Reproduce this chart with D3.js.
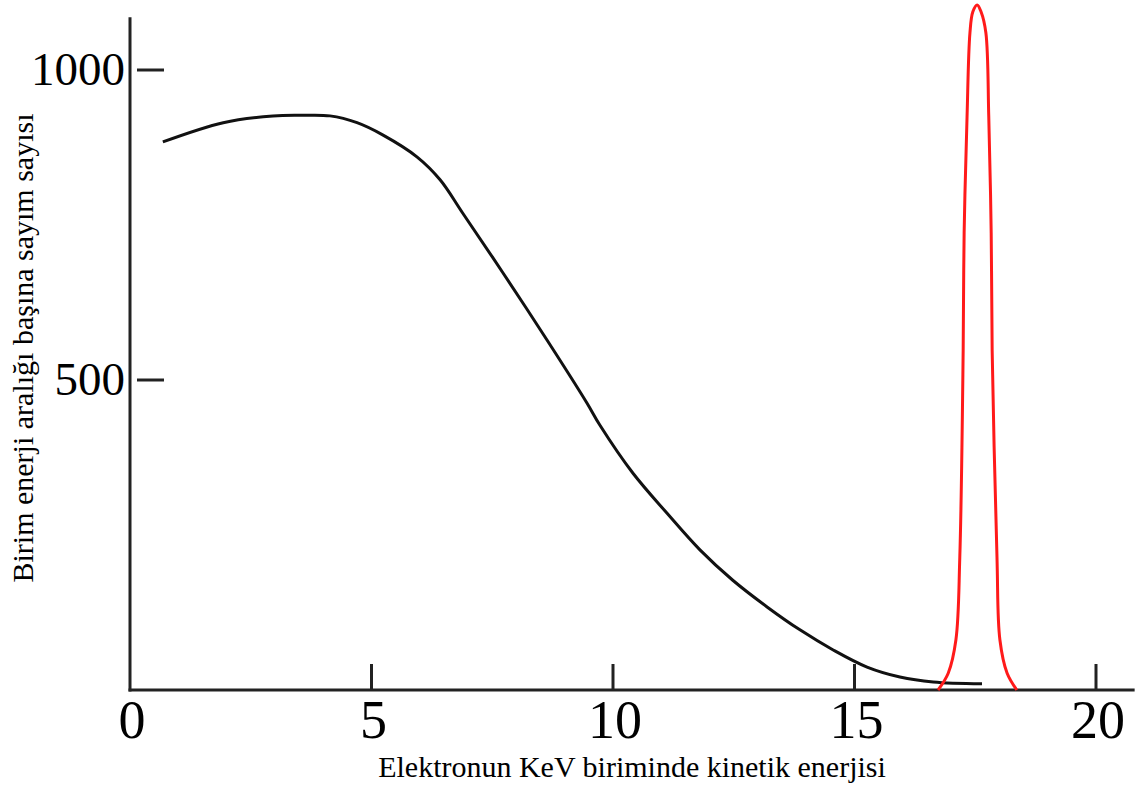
<!DOCTYPE html>
<html>
<head>
<meta charset="utf-8">
<script src="https://cdn.jsdelivr.net/npm/d3@7"></script>
<style>
    body { margin: 0; background: #fff; }
</style>
</head>
<body>
<div id="chart"></div>
<script>
///////////// Data /////////////////

// continuous beta spectrum (black curve)
const betaEnergy = [0.68, 1.93, 2.96, 3.58, 4.14, 4.70, 5.24, 5.94, 6.42, 6.89, 7.72, 8.63, 9.46, 9.73, 10.41, 11.12, 11.80, 12.48, 13.19, 13.87, 14.55, 15.26, 15.94, 16.63, 17.64];
const betaCounts = [884, 915, 926, 927, 926, 915, 895, 860, 823, 769, 673, 565, 463, 427, 350, 285, 226, 177, 134, 97, 65, 37, 21, 13, 10];

// sharp line (red peak)
const peakEnergy = [16.73, 16.94, 17.10, 17.18, 17.25, 17.27, 17.33, 17.39, 17.45, 17.54, 17.62, 17.72, 17.78, 17.83, 17.85, 17.95, 18.01, 18.16, 18.36];
const peakCounts = [0, 27, 81, 214, 548, 737, 924, 1060, 1094, 1105, 1094, 1060, 924, 737, 548, 214, 81, 27, 0];

// tick labels
const xTicks = [0, 5, 10, 15, 20];
const yTicks = [500, 1000];

const xTitle = "Elektronun KeV biriminde kinetik enerjisi";
const yTitle = "Birim enerji aralığı başına sayım sayısı";

///////////// Chart /////////////////

const width = 1144;
const height = 793;
const font = "'Liberation Serif', 'Times New Roman', serif";

let svg = d3
    .select("#chart")
    .append("svg")
    .attr("width", width)
    .attr("height", height);

// scales (0..20 keV on x, 0..1000 counts on y)
const x = d3.scaleLinear().domain([0, 20]).range([130, 1096]);
const y = d3.scaleLinear().domain([0, 1000]).range([690, 70]);

//axis lines
svg.append("line")
    .attr("x1", x(0)).attr("x2", x(0))
    .attr("y1", y(1085)).attr("y2", y(0) + 1.5)
    .attr("stroke", "#222").attr("stroke-width", 3);

svg.append("line")
    .attr("x1", x(0) - 1.5).attr("x2", x(20.8))
    .attr("y1", y(0)).attr("y2", y(0))
    .attr("stroke", "#222").attr("stroke-width", 3);

//x ticks point up from the axis, no tick at 0
svg.selectAll(".xtick")
    .data(xTicks.filter((d) => d > 0))
    .enter()
    .append("line")
    .attr("class", "xtick")
    .attr("x1", (d) => x(d)).attr("x2", (d) => x(d))
    .attr("y1", y(0)).attr("y2", y(0) - 26)
    .attr("stroke", "#222").attr("stroke-width", 3);

svg.selectAll(".xlabel")
    .data(xTicks)
    .enter()
    .append("text")
    .attr("class", "xlabel")
    .attr("x", (d) => x(d) + 2)
    .attr("y", 738)
    .attr("text-anchor", "middle")
    .style("font-family", font)
    .style("font-size", "54px")
    .text((d) => d);

//y ticks sit a little to the right of the axis line
svg.selectAll(".ytick")
    .data(yTicks)
    .enter()
    .append("line")
    .attr("class", "ytick")
    .attr("x1", x(0) + 7).attr("x2", x(0) + 34)
    .attr("y1", (d) => y(d)).attr("y2", (d) => y(d))
    .attr("stroke", "#222").attr("stroke-width", 3);

svg.selectAll(".ylabel")
    .data(yTicks)
    .enter()
    .append("text")
    .attr("class", "ylabel")
    .attr("x", x(0) - 5)
    .attr("y", (d) => y(d) + 15)
    .attr("text-anchor", "end")
    .style("font-family", font)
    .style("font-size", "47px")
    .text((d) => d);

//axis titles
svg.append("text")
    .attr("x", 632)
    .attr("y", 777)
    .attr("text-anchor", "middle")
    .style("font-family", font)
    .style("font-size", "30px")
    .text(xTitle);

svg.append("text")
    .attr("transform", "translate(33,348) rotate(-90)")
    .attr("text-anchor", "middle")
    .style("font-family", font)
    .style("font-size", "30px")
    .text(yTitle);

//curves - catmull-rom keeps them smooth through the read points
const line = d3
    .line()
    .x((d) => x(d[0]))
    .y((d) => y(d[1]))
    .curve(d3.curveCatmullRom.alpha(0.5));

svg.append("path")
    .datum(d3.zip(betaEnergy, betaCounts))
    .attr("d", line)
    .attr("fill", "none")
    .attr("stroke", "#111")
    .attr("stroke-width", 3);

svg.append("path")
    .datum(d3.zip(peakEnergy, peakCounts))
    .attr("d", line)
    .attr("fill", "none")
    .attr("stroke", "#ff1a1a")
    .attr("stroke-width", 3);
</script>
</body>
</html>
